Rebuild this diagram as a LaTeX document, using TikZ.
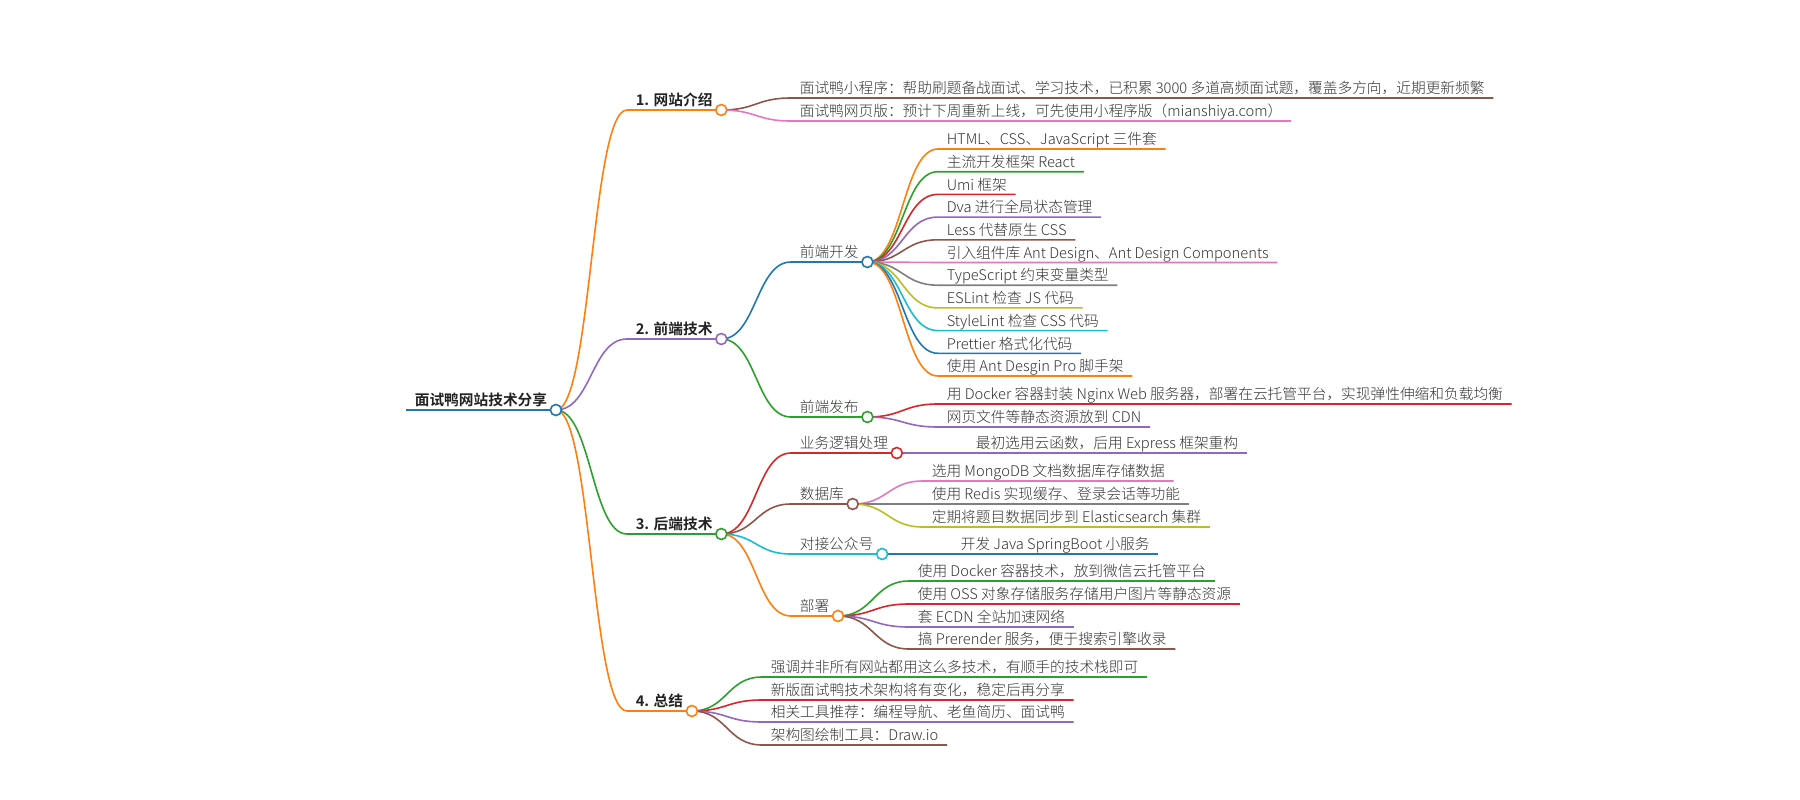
\documentclass[tikz,border=0pt]{standalone}
\usepackage{fontspec}
\setmainfont{Noto Sans CJK SC}[UprightFont=* Light, BoldFont=* Bold]
\usetikzlibrary{calc}
\definecolor{cblue}{HTML}{1F77B4}
\definecolor{corange}{HTML}{FF7F0E}
\definecolor{cgreen}{HTML}{2CA02C}
\definecolor{cred}{HTML}{D62728}
\definecolor{cpurple}{HTML}{9467BD}
\definecolor{cbrown}{HTML}{8C564B}
\definecolor{cpink}{HTML}{E377C2}
\definecolor{cgray}{HTML}{7F7F7F}
\definecolor{colive}{HTML}{BCBD22}
\definecolor{ccyan}{HTML}{17BECF}
\definecolor{txt}{HTML}{333333}
\definecolor{headtxt}{HTML}{222222}
\tikzset{
every picture/.style={
line width=1.6pt
}}

\begin{document}
\begin{tikzpicture}[x=1pt, y=-1pt,
item/.style = {anchor=south west, inner xsep=8pt, inner ysep=0pt, text height=11pt, text depth=3.5pt, text=txt, font=\fontsize{14.7}{17}\selectfont},
head/.style = {item, text=headtxt, font=\fontsize{14.7}{17}\selectfont\bfseries},
dot/.style = {circle, draw=#1, fill=white, minimum size=11pt, inner sep=0pt},
branch/.style = {to path={let \p1=(\tikztostart), \p2=(\tikztotarget) in
  .. controls ({0.5*\x1+0.5*\x2},\y1) and ({0.5*\x1+0.5*\x2},\y2) .. (\tikztotarget)}}]
\useasboundingbox (0,0) rectangle (1800,800);

% root and main branches
\node[head] (root) at (406,410) {面试鸭网站技术分享};
\node[head] (intro) at (627,110) {1. 网站介绍};
\node[head] (front) at (627,339) {2. 前端技术};
\node[head] (back) at (627,534) {3. 后端技术};
\node[head] (summ) at (627,711) {4. 总结};

% 1. site
\node[item] (mini) at (791,98) {面试鸭小程序：帮助刷题备战面试、学习技术，已积累 3000 多道高频面试题，覆盖多方向，近期更新频繁};
\node[item] (web) at (791,121) {面试鸭网页版：预计下周重新上线，可先使用小程序版（mianshiya.com）};

% 2. front end
\node[item] (dev) at (791,262) {前端开发};
\node[item] (pub) at (791,417) {前端发布};
\node[item] (dev1) at (938,149) {HTML、CSS、JavaScript 三件套};
\node[item] (dev2) at (938,171.7) {主流开发框架 React};
\node[item] (dev3) at (938,194.4) {Umi 框架};
\node[item] (dev4) at (938,217.1) {Dva 进行全局状态管理};
\node[item] (dev5) at (938,239.8) {Less 代替原生 CSS};
\node[item] (dev6) at (938,262.5) {引入组件库 Ant Design、Ant Design Components};
\node[item] (dev7) at (938,285.2) {TypeScript 约束变量类型};
\node[item] (dev8) at (938,307.9) {ESLint 检查 JS 代码};
\node[item] (dev9) at (938,330.6) {StyleLint 检查 CSS 代码};
\node[item] (dev10) at (938,353.3) {Prettier 格式化代码};
\node[item] (dev11) at (938,376) {使用 Ant Desgin Pro 脚手架};
\node[item] (pub1) at (938,404) {用 Docker 容器封装 Nginx Web 服务器，部署在云托管平台，实现弹性伸缩和负载均衡};
\node[item] (pub2) at (938,427) {网页文件等静态资源放到 CDN};

% 3. back end
\node[item] (biz) at (791,453) {业务逻辑处理};
\node[item] (db) at (791,504) {数据库};
\node[item] (wx) at (791,554) {对接公众号};
\node[item] (ops) at (791,616) {部署};
\node[item] (biz1) at (967,453) {最初选用云函数，后用 Express 框架重构};
\node[item] (db1) at (923,481) {选用 MongoDB 文档数据库存储数据};
\node[item] (db2) at (923,504) {使用 Redis 实现缓存、登录会话等功能};
\node[item] (db3) at (923,527) {定期将题目数据同步到 Elasticsearch 集群};
\node[item] (wx1) at (952,554) {开发 Java SpringBoot 小服务};
\node[item] (ops1) at (909,581) {使用 Docker 容器技术，放到微信云托管平台};
\node[item] (ops2) at (909,604) {使用 OSS 对象存储服务存储用户图片等静态资源};
\node[item] (ops3) at (909,627) {套 ECDN 全站加速网络};
\node[item] (ops4) at (909,649) {搞 Prerender 服务，便于搜索引擎收录};

% 4. summary
\node[item] (sum1) at (762,677) {强调并非所有网站都用这么多技术，有顺手的技术栈即可};
\node[item] (sum2) at (762,700) {新版面试鸭技术架构将有变化，稳定后再分享};
\node[item] (sum3) at (762,722) {相关工具推荐：编程导航、老鱼简历、面试鸭};
\node[item] (sum4) at (762,745) {架构图绘制工具：Draw.io};

% links and underlines
\draw[cblue] (root.south west) -- (root.south east);
\draw[corange] (root.south east) to[branch] (intro.south west) -- (intro.south east);
\draw[cpurple] (root.south east) to[branch] (front.south west) -- (front.south east);
\draw[cgreen] (root.south east) to[branch] (back.south west) -- (back.south east);
\draw[corange] (root.south east) to[branch] (summ.south west) -- (summ.south east);

\draw[cbrown] (intro.south east) to[branch] (mini.south west) -- (mini.south east);
\draw[cpink] (intro.south east) to[branch] (web.south west) -- (web.south east);

\draw[cblue] (front.south east) to[branch] (dev.south west) -- (dev.south east);
\draw[cgreen] (front.south east) to[branch] (pub.south west) -- (pub.south east);
\draw[corange] (dev.south east) to[branch] (dev1.south west) -- (dev1.south east);
\draw[cgreen] (dev.south east) to[branch] (dev2.south west) -- (dev2.south east);
\draw[cred] (dev.south east) to[branch] (dev3.south west) -- (dev3.south east);
\draw[cpurple] (dev.south east) to[branch] (dev4.south west) -- (dev4.south east);
\draw[cbrown] (dev.south east) to[branch] (dev5.south west) -- (dev5.south east);
\draw[cpink] (dev.south east) to[branch] (dev6.south west) -- (dev6.south east);
\draw[cgray] (dev.south east) to[branch] (dev7.south west) -- (dev7.south east);
\draw[colive] (dev.south east) to[branch] (dev8.south west) -- (dev8.south east);
\draw[ccyan] (dev.south east) to[branch] (dev9.south west) -- (dev9.south east);
\draw[cblue] (dev.south east) to[branch] (dev10.south west) -- (dev10.south east);
\draw[corange] (dev.south east) to[branch] (dev11.south west) -- (dev11.south east);
\draw[cred] (pub.south east) to[branch] (pub1.south west) -- (pub1.south east);
\draw[cpurple] (pub.south east) to[branch] (pub2.south west) -- (pub2.south east);

\draw[cred] (back.south east) to[branch] (biz.south west) -- (biz.south east);
\draw[cbrown] (back.south east) to[branch] (db.south west) -- (db.south east);
\draw[ccyan] (back.south east) to[branch] (wx.south west) -- (wx.south east);
\draw[corange] (back.south east) to[branch] (ops.south west) -- (ops.south east);
\draw[cpurple] (biz.south east) to[branch] (biz1.south west) -- (biz1.south east);
\draw[cpink] (db.south east) to[branch] (db1.south west) -- (db1.south east);
\draw[cgray] (db.south east) to[branch] (db2.south west) -- (db2.south east);
\draw[colive] (db.south east) to[branch] (db3.south west) -- (db3.south east);
\draw[cblue] (wx.south east) to[branch] (wx1.south west) -- (wx1.south east);
\draw[cgreen] (ops.south east) to[branch] (ops1.south west) -- (ops1.south east);
\draw[cred] (ops.south east) to[branch] (ops2.south west) -- (ops2.south east);
\draw[cpurple] (ops.south east) to[branch] (ops3.south west) -- (ops3.south east);
\draw[cbrown] (ops.south east) to[branch] (ops4.south west) -- (ops4.south east);

\draw[cgreen] (summ.south east) to[branch] (sum1.south west) -- (sum1.south east);
\draw[cred] (summ.south east) to[branch] (sum2.south west) -- (sum2.south east);
\draw[cpurple] (summ.south east) to[branch] (sum3.south west) -- (sum3.south east);
\draw[cbrown] (summ.south east) to[branch] (sum4.south west) -- (sum4.south east);

% knobs
\node[dot=cblue] (root-o) at (root.south east) {};
\node[dot=corange] (intro-o) at (intro.south east) {};
\node[dot=cpurple] (front-o) at (front.south east) {};
\node[dot=cgreen] (back-o) at (back.south east) {};
\node[dot=corange] (summ-o) at (summ.south east) {};
\node[dot=cblue] (dev-o) at (dev.south east) {};
\node[dot=cgreen] (pub-o) at (pub.south east) {};
\node[dot=cred] (biz-o) at (biz.south east) {};
\node[dot=cbrown] (db-o) at (db.south east) {};
\node[dot=ccyan] (wx-o) at (wx.south east) {};
\node[dot=corange] (ops-o) at (ops.south east) {};
\end{tikzpicture}
\end{document}
